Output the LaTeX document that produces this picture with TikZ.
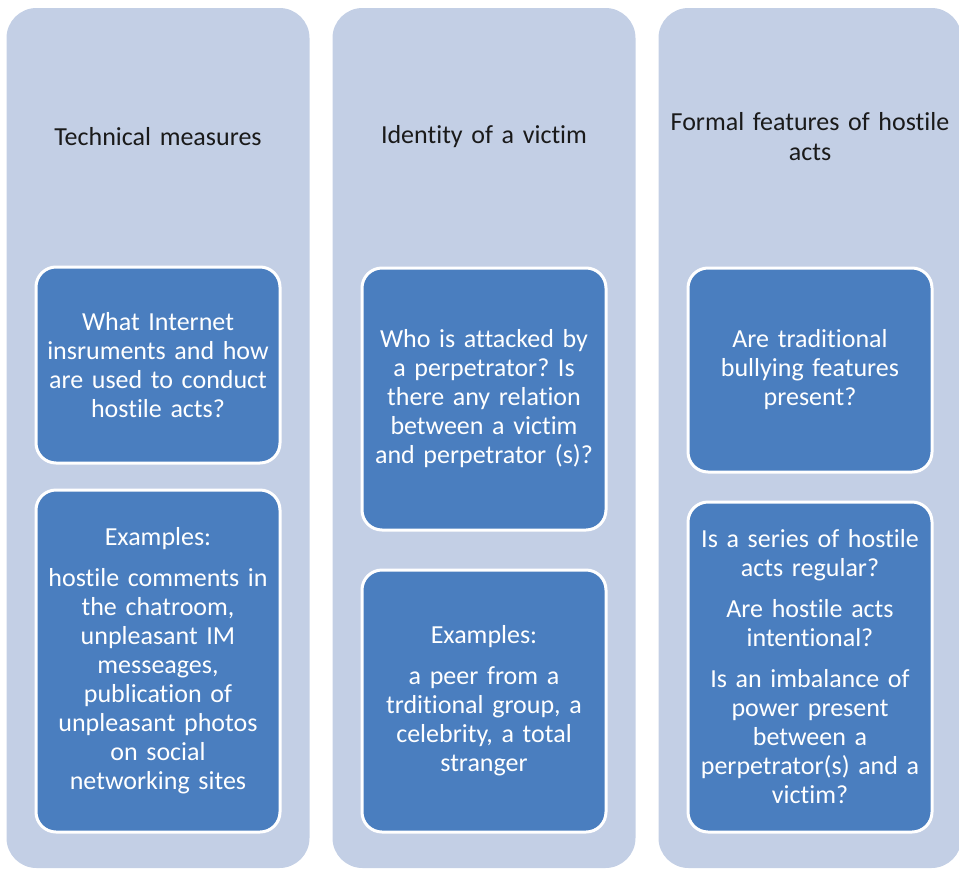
\documentclass[tikz,border=0pt]{standalone}
\usepackage{fontspec}
\setmainfont[RawFeature={-liga;-clig;-calt;-dlig}]{Carlito}
\frenchspacing
\usetikzlibrary{positioning}
\definecolor{colfill}{RGB}{195,207,229}
\definecolor{boxfill}{RGB}{74,126,191}
\definecolor{headtext}{RGB}{26,26,26}

\begin{document}
\begin{tikzpicture}[x=1pt,y=-1pt,
    column/.style={fill=colfill,rounded corners=30pt,minimum width=303pt,minimum height=860pt,inner sep=0pt},
    heading/.style={text=headtext,align=center,text width=290pt,font=\fontsize{26}{30}\selectfont},
    itembox/.style={fill=boxfill,draw=white,line width=3pt,rounded corners=20pt,minimum width=244pt,
        inner sep=0pt,text width=240pt,align=center,text=white,font=\fontsize{26}{29}\selectfont}]
\useasboundingbox (0,0) rectangle (959,873);
% columns
\node[column] (techcol) at (158,438) {};
\node[column] (victcol) at (484,438) {};
\node[column] (formcol) at (810,438) {};
% headings
\node[heading] (techhead) at (158,137) {Technical measures};
\node[heading] (victhead) at (484,137) {Identity of a victim};
\node[heading] (formhead) at (810,137) {Formal features of hostile\\ acts};
% first column
\node[itembox,minimum height=196pt] (techq) at (158,365)
    {What Internet\\ insruments and how\\ are used to conduct\\ hostile acts?};
\node[itembox,minimum height=342pt] (techex) at (158,661)
    {Examples:\\[12pt] hostile comments in\\ the chatroom,\\ unpleasant IM\\ messeages,\\ publication of\\ unpleasant photos\\ on social\\ networking sites};
% second column
\node[itembox,minimum height=262pt] (victq) at (484,399)
    {Who is attacked by\\ a perpetrator? Is\\ there any relation\\ between a victim\\ and perpetrator (s)?};
\node[itembox,minimum height=262pt] (victex) at (484,701)
    {Examples:\\[12pt] a peer from a\\ trditional group, a\\ celebrity, a total\\ stranger};
% third column
\node[itembox,minimum height=204pt] (formq) at (810,370)
    {Are traditional\\ bullying features\\ present?};
\node[itembox,minimum height=330pt] (formex) at (810,667)
    {Is a series of hostile\\ acts regular?\\[12pt] Are hostile acts\\ intentional?\\[12pt] Is an imbalance of\\ power present\\ between a\\ perpetrator(s) and a\\ victim?};
\end{tikzpicture}
\end{document}
